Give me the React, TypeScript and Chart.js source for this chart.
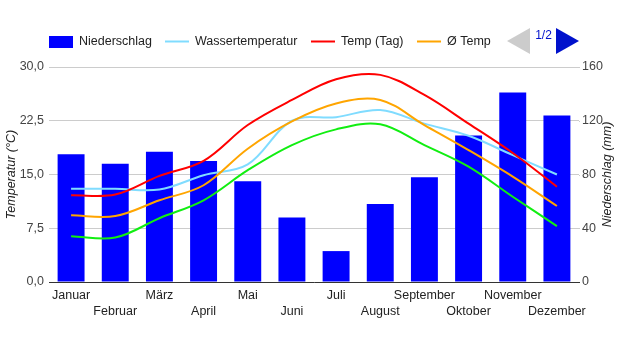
import React, { useEffect, useRef } from "react";
import { Chart, registerables } from "chart.js";

Chart.register(...registerables);

const months = ["Januar", "Februar", "März", "April", "Mai", "Juni", "Juli", "August", "September", "Oktober", "November", "Dezember"];
const precipitation = [95, 88, 97, 90, 75, 48, 23, 58, 78, 109, 141, 124];
const waterTemp = [13.0, 13.0, 12.9, 14.9, 16.4, 22.5, 23.0, 24.0, 22.1, 20.4, 17.7, 15.0];
const dayTemp = [12.1, 12.2, 14.8, 16.9, 21.9, 25.4, 28.3, 28.9, 26.1, 22.1, 18.0, 13.3];
const avgTemp = [9.3, 9.2, 11.4, 13.5, 18.6, 22.4, 24.9, 25.4, 21.9, 18.4, 14.7, 10.6];
const nightTemp = [6.4, 6.2, 8.9, 11.4, 15.6, 19.1, 21.3, 22.0, 19.1, 16.1, 11.9, 7.8];
const tempTicks = [0, 7.5, 15, 22.5, 30];
const precipTicks = [0, 40, 80, 120, 160];

const FONT = "'Liberation Sans', Arial, sans-serif";
const COLORS = {
  bar: "#0000ff",
  water: "#80dcff",
  day: "#ff0000",
  avg: "#ffa500",
  night: "#11ee11",
};

const overlay = {
  id: "overlay",
  afterDraw(chart: any) {
    const ctx = chart.ctx as CanvasRenderingContext2D;
    ctx.save();
    ctx.font = `12.5px ${FONT}`;
    ctx.fillStyle = "#222";
    ctx.textBaseline = "middle";
    ctx.textAlign = "left";
    const ly = 42;
    ctx.fillStyle = COLORS.bar;
    ctx.fillRect(49, 36, 24, 12);
    ctx.fillStyle = "#222";
    ctx.fillText("Niederschlag", 79, ly);
    const lineItem = (x: number, color: string, text: string) => {
      ctx.strokeStyle = color;
      ctx.lineWidth = 2;
      ctx.beginPath();
      ctx.moveTo(x, ly - 0.5);
      ctx.lineTo(x + 24, ly - 0.5);
      ctx.stroke();
      ctx.fillStyle = "#222";
      ctx.fillText(text, x + 30, ly);
    };
    lineItem(165, COLORS.water, "Wassertemperatur");
    lineItem(311, COLORS.day, "Temp (Tag)");
    lineItem(417, COLORS.avg, "Ø Temp");
    ctx.fillStyle = "#cccccc";
    ctx.beginPath();
    ctx.moveTo(507, 41);
    ctx.lineTo(530, 28);
    ctx.lineTo(530, 54);
    ctx.closePath();
    ctx.fill();
    ctx.fillStyle = "#0011cc";
    ctx.beginPath();
    ctx.moveTo(579, 41);
    ctx.lineTo(556, 28);
    ctx.lineTo(556, 54);
    ctx.closePath();
    ctx.fill();
    ctx.font = `12px ${FONT}`;
    ctx.textAlign = "center";
    ctx.fillText("1/2", 543.5, 36);
    const area = chart.chartArea;
    const cy = (area.top + area.bottom) / 2;
    ctx.strokeStyle = "#cccccc";
    ctx.lineWidth = 1;
    const ys = chart.scales.y1;
    for (const v of precipTicks) {
      const py = Math.round(ys.getPixelForValue(v)) + 0.5;
      if (v === 0) continue;
      ctx.beginPath();
      ctx.moveTo(area.right, py);
      ctx.lineTo(area.right + 1, py);
      ctx.stroke();
    }
    ctx.font = `italic 12.5px ${FONT}`;
    ctx.fillStyle = "#222";
    ctx.save();
    ctx.translate(12, cy);
    ctx.rotate(-Math.PI / 2);
    ctx.fillText("Temperatur (°C)", 0, 0);
    ctx.restore();
    ctx.save();
    ctx.translate(608, cy);
    ctx.rotate(-Math.PI / 2);
    ctx.fillText("Niederschlag (mm)", 0, 0);
    ctx.restore();
    ctx.restore();
  },
};

export default function App() {
  const ref = useRef<HTMLCanvasElement | null>(null);
  useEffect(() => {
    document.body.style.margin = "0";
    const lineDs = (label: string, data: number[], color: string, order: number) => ({
      type: "line" as const,
      label,
      data,
      borderColor: color,
      backgroundColor: color,
      borderWidth: 2,
      pointRadius: 0,
      tension: 0.35,
      yAxisID: "y",
      order,
    });
    const chart = new Chart(ref.current as HTMLCanvasElement, {
      type: "bar",
      data: {
        labels: months,
        datasets: [
          {
            type: "bar" as const,
            label: "Niederschlag",
            data: precipitation,
            backgroundColor: COLORS.bar,
            barPercentage: 0.61,
            categoryPercentage: 1,
            yAxisID: "y1",
            order: 10,
          } as any,
          lineDs("Wassertemperatur", waterTemp, COLORS.water, 4),
          lineDs("Temp (Tag)", dayTemp, COLORS.day, 3),
          lineDs("Ø Temp", avgTemp, COLORS.avg, 2),
          lineDs("Temp (Nacht)", nightTemp, COLORS.night, 1),
        ],
      },
      options: {
        responsive: false,
        animation: false,
        devicePixelRatio: 1,
        layout: { padding: { top: 67, left: 0, right: 0, bottom: 0 } },
        plugins: { legend: { display: false }, tooltip: { enabled: false } },
        scales: {
          x: {
            grid: { display: false, drawTicks: false },
            border: { display: true, color: "#333", width: 1 },
            ticks: {
              autoSkip: false,
              maxRotation: 0,
              minRotation: 0,
              padding: 6,
              color: "#222",
              font: { family: FONT, size: 12.5, lineHeight: 1.28 },
              callback: (_v: any, i: number) => (i % 2 === 0 ? [months[i], ""] : ["", months[i]]),
            },
            afterFit: (s: any) => {
              s.height = 68;
            },
          },
          y: {
            position: "left",
            min: 0,
            max: 30,
            afterBuildTicks: (s: any) => {
              s.ticks = tempTicks.map((v) => ({ value: v }));
            },
            grid: { color: "#cccccc", drawTicks: false },
            border: { display: false },
            ticks: {
              padding: 5,
              color: "#444",
              font: { family: FONT, size: 12.5 },
              callback: (v: any) => Number(v).toFixed(1).replace(".", ","),
            },
            afterFit: (s: any) => {
              s.width = 49;
            },
          },
          y1: {
            position: "right",
            min: 0,
            max: 160,
            afterBuildTicks: (s: any) => {
              s.ticks = precipTicks.map((v) => ({ value: v }));
            },
            grid: { drawOnChartArea: false, drawTicks: false },
            border: { display: false },
            ticks: {
              padding: 3,
              color: "#444",
              font: { family: FONT, size: 12.5 },
            },
            afterFit: (s: any) => {
              s.width = 38;
            },
          },
        },
      },
      plugins: [overlay],
    });
    return () => chart.destroy();
  }, []);
  return (
    <div style={{ width: 617, height: 350, position: "relative" }}>
      <canvas ref={ref} width={617} height={350} style={{ display: "block" }} />
    </div>
  );
}
